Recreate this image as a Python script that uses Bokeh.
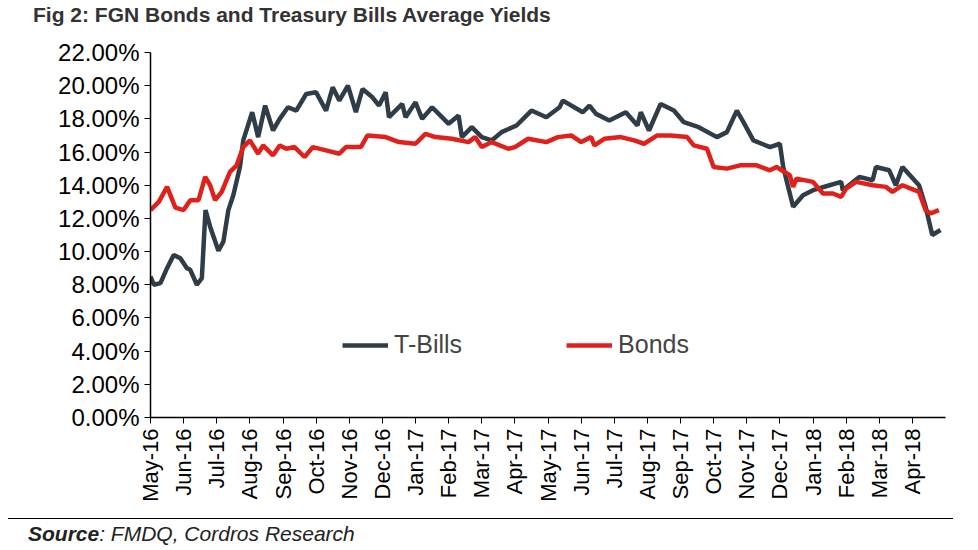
from bokeh.plotting import figure
from bokeh.models import FixedTicker, Div, Range1d, Legend, LegendItem
from bokeh.layouts import column
from bokeh.embed import file_html
from bokeh.resources import INLINE
import math

months = ["May-16","Jun-16","Jul-16","Aug-16","Sep-16","Oct-16","Nov-16","Dec-16","Jan-17","Feb-17","Mar-17","Apr-17",
          "May-17","Jun-17","Jul-17","Aug-17","Sep-17","Oct-17","Nov-17","Dec-17","Jan-18","Feb-18","Mar-18","Apr-18"]

tb_x = [0,0.1,0.3,0.5,0.7,0.9,1.1,1.2,1.4,1.55,1.66,1.8,2.05,2.2,2.35,2.5,2.7,2.8,3.07,3.25,3.46,3.7,3.9,4.15,4.4,4.7,5.0,5.3,5.5,5.7,5.96,6.2,6.4,6.7,6.9,7.1,7.2,7.6,7.7,8.0,8.2,8.5,8.8,9.0,9.3,9.4,9.7,10.0,10.3,10.6,11.05,11.5,11.95,12.35,12.45,13.05,13.25,13.45,13.85,14.35,14.7,14.8,15.05,15.4,15.8,16.1,16.55,17.1,17.4,17.7,17.9,18.2,18.7,19.0,19.1,19.4,19.7,20.0,20.5,20.85,20.9,21.4,21.8,21.9,22.3,22.5,22.7,23.2,23.4,23.6,23.85]
tb_y = [8.5,8.0,8.1,9.0,9.8,9.6,9.0,8.9,8.0,8.4,12.5,11.5,10.05,10.6,12.5,13.4,15.1,16.7,18.4,16.9,18.8,17.3,18.0,18.7,18.5,19.5,19.6,18.5,19.9,19.1,20.0,18.4,19.8,19.3,18.8,19.6,18.1,18.9,18.1,19.0,18.0,18.7,18.1,17.7,18.2,16.9,17.5,16.9,16.7,17.2,17.6,18.5,18.1,18.7,19.1,18.4,18.8,18.3,17.9,18.4,17.6,18.4,17.3,18.9,18.5,17.8,17.5,16.9,17.2,18.5,17.8,16.7,16.3,16.5,15.1,12.7,13.4,13.7,14.0,14.2,13.7,14.5,14.3,15.1,14.9,14.0,15.1,14.0,12.7,11.0,11.3]

bd_x = [0,0.25,0.5,0.75,1.0,1.2,1.45,1.65,1.8,1.95,2.15,2.4,2.6,2.8,3.0,3.25,3.4,3.7,3.9,4.1,4.35,4.65,4.9,5.3,5.7,5.9,6.35,6.55,7.1,7.5,8.0,8.3,8.6,9.1,9.6,9.8,10.0,10.3,10.8,11.0,11.4,11.95,12.3,12.7,13.0,13.3,13.4,13.7,14.2,14.6,14.9,15.3,15.7,16.2,16.4,16.8,17.0,17.4,17.8,18.3,18.7,18.9,19.3,19.4,19.5,20.0,20.3,20.6,20.85,21.0,21.3,21.8,22.2,22.4,22.7,23.2,23.4,23.55,23.8]
bd_y = [12.5,13.0,13.9,12.65,12.5,13.1,13.1,14.5,14.0,13.1,13.6,14.8,15.2,16.3,16.7,15.9,16.4,15.8,16.4,16.2,16.3,15.7,16.3,16.1,15.9,16.3,16.3,17.0,16.9,16.6,16.5,17.1,16.9,16.8,16.6,16.9,16.3,16.6,16.2,16.3,16.8,16.6,16.9,17.0,16.6,16.9,16.4,16.8,16.9,16.7,16.5,17.0,17.0,16.9,16.4,16.2,15.1,15.0,15.2,15.2,14.9,15.1,14.6,13.9,14.4,14.2,13.5,13.5,13.3,13.8,14.2,14.0,13.9,13.6,14.0,13.6,12.5,12.3,12.5]

y_ticks = [0,2,4,6,8,10,12,14,16,18,20,22]

FONT = "Liberation Sans"

p = figure(width=962, height=478, output_backend="svg", toolbar_location=None,
           x_range=Range1d(0, 24.0), y_range=Range1d(0, 22),
           min_border_left=150, min_border_right=17, min_border_top=17, min_border_bottom=96)
p.outline_line_color = None
p.grid.visible = False

r1 = p.line(tb_x, tb_y, line_color="#2f3d48", line_width=4.5)
r2 = p.line(bd_x, bd_y, line_color="#e0211b", line_width=4.5)

p.yaxis.ticker = FixedTicker(ticks=y_ticks)
p.yaxis.major_label_overrides = {t: f"{t:.2f}%" for t in y_ticks}
p.xaxis.ticker = FixedTicker(ticks=list(range(len(months))))
p.xaxis.major_label_overrides = {i: m for i, m in enumerate(months)}
p.xaxis.major_label_orientation = math.pi / 2
for ax in (p.xaxis, p.yaxis):
    ax.axis_line_color = "black"
    ax.axis_line_width = 1.5
    ax.major_tick_line_color = "black"
    ax.major_tick_in = 0
    ax.major_tick_out = 6
    ax.minor_tick_line_color = None
    ax.major_label_text_font = FONT
    ax.major_label_text_color = "black"
p.yaxis.major_label_text_font_size = "24px"
p.xaxis.major_label_text_font_size = "22px"

leg = Legend(items=[LegendItem(label="T-Bills", renderers=[r1]), LegendItem(label="Bonds", renderers=[r2])],
             orientation="horizontal", location=(192, 58), label_text_font=FONT,
             label_text_font_size="25px", glyph_width=46, spacing=104,
             background_fill_alpha=0, border_line_color=None, label_standoff=6)
p.add_layout(leg, "center")

title = Div(text="Fig 2: FGN Bonds and Treasury Bills Average Yields", width=962, height=30,
            styles={"font-family": FONT, "font-weight": "bold", "font-size": "21px", "color": "#333",
                    "padding-left": "28px", "margin-top": "0px"})
src = Div(text="<b>Source</b>: FMDQ, Cordros Research", width=962, height=30,
          styles={"font-family": FONT, "font-style": "italic", "font-size": "21px", "color": "#222",
                  "border-top": "1.5px solid black", "padding-left": "20px", "margin-left": "8px",
                  "width": "945px"})

layout = column(title, p, src, spacing=0)
open("out.html", "w").write(file_html(layout, INLINE))
